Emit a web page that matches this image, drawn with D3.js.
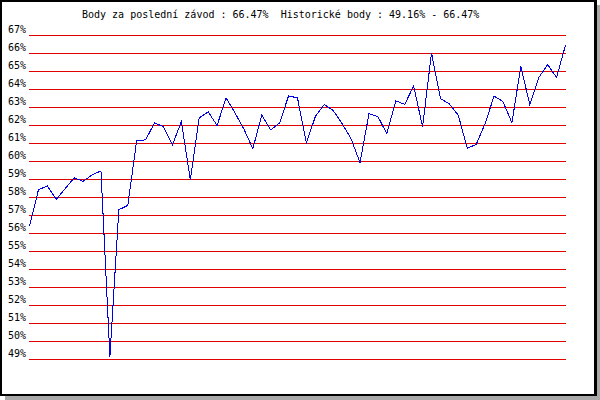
<!DOCTYPE html>
<html>
<head>
<meta charset="utf-8">
<script src="https://cdn.jsdelivr.net/npm/d3@7"></script>
<style>
  body { margin: 0; background: #fff; }
  text { font-family: "DejaVu Sans Mono", monospace; font-size: 10px; fill: #000; white-space: pre; }
</style>
</head>
<body>
<div id="visualization"></div>
<script>
// Title text
var titleText = "Body za poslední závod : 66.47%  Historické body : 49.16% - 66.47%";

// Race index (61 races) and points in percent
var races = d3.range(61);
var points = [
  56.39, 58.43, 58.64, 57.89, 58.5, 59.09, 58.9, 59.25, 59.48, 49.16,
  57.32, 57.56, 61.17, 61.2, 62.15, 61.93, 60.93, 62.22, 59.0, 62.43,
  62.76, 62.0, 63.54, 62.7, 61.8, 60.71, 62.58, 61.76, 62.14, 63.65,
  63.53, 61.03, 62.5, 63.17, 62.83, 62.1, 61.26, 59.93, 62.65, 62.5,
  61.54, 63.37, 63.17, 64.2, 61.93, 66.03, 63.5, 63.2, 62.57, 60.74,
  60.94, 62.1, 63.63, 63.33, 62.15, 65.28, 63.17, 64.65, 65.39, 64.66,
  66.47
];

// Y tick values (49% .. 67%)
var yTicks = d3.range(49, 68);

var width = 600, height = 400;

var svg = d3.select("#visualization")
  .append("svg")
  .attr("width", width)
  .attr("height", height);

// drop shadow + black frame
svg.append("rect")
  .attr("x", 5).attr("y", 5)
  .attr("width", 595).attr("height", 395)
  .attr("fill", "#a9a9a9");
svg.append("rect")
  .attr("x", 0).attr("y", 0)
  .attr("width", 597).attr("height", 396)
  .attr("fill", "#000");
svg.append("rect")
  .attr("x", 2).attr("y", 2)
  .attr("width", 592).attr("height", 392)
  .attr("fill", "#fff");

var xScale = d3.scaleLinear()
  .domain([0, races.length - 1])
  .range([29.5, 565.5]);

var yScale = d3.scaleLinear()
  .domain([49, 67])
  .range([359.5, 35.5]);

// Horizontal grid lines (red) via axis with full-width ticks
var yAxis = svg.append("g")
  .attr("transform", "translate(29,0)")
  .call(d3.axisRight(yScale)
    .offset(0)
    .tickValues(yTicks)
    .tickSize(537)
    .tickFormat(""));
yAxis.select(".domain").remove();
yAxis.selectAll(".tick line")
  .attr("stroke", "#e00000")
  .attr("shape-rendering", "crispEdges");

// Y labels sit just above each grid line
svg.selectAll(".ylabel")
  .data(yTicks)
  .enter().append("text")
  .attr("class", "ylabel")
  .attr("x", 8)
  .attr("y", function(d) { return yScale(d) - 2.5; })
  .text(function(d) { return d + "%"; });

// Title
svg.append("text")
  .attr("x", 82)
  .attr("y", 18)
  .attr("xml:space", "preserve")
  .text(titleText);

// Points line (blue)
var line = d3.line()
  .x(function(d, i) { return xScale(races[i]); })
  .y(function(d) { return yScale(d); });

svg.append("path")
  .datum(points)
  .attr("d", line)
  .attr("fill", "none")
  .attr("stroke", "#0000e6")
  .attr("stroke-width", 1)
  .attr("shape-rendering", "crispEdges");
</script>
</body>
</html>
